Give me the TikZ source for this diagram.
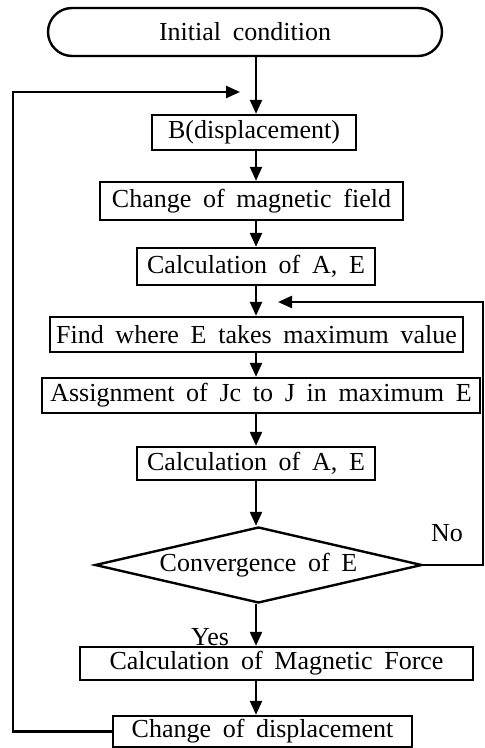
\documentclass[tikz,border=0pt]{standalone}
\usepackage{fontspec}
\setmainfont{Liberation Serif}
\usetikzlibrary{shapes.geometric,arrows.meta}
\begin{document}
\begin{tikzpicture}[
  x=0.5pt, y=-0.5pt,
  every node/.style={font={\fontsize{13pt}{15pt}\selectfont\spaceskip=0.45em\relax}},
  box/.style={draw, line width=1.2pt, inner sep=0pt, align=center},
  term/.style={box, rounded corners=12pt},
  test/.style={draw, line width=1.2pt, diamond, aspect=4.3, inner sep=0pt},
  arr/.style={-{Triangle[length=7pt,width=6pt]}, line width=1.2pt},
  lbl/.style={inner sep=0pt}
]
\useasboundingbox (0,0) rectangle (485,748);
% main axis and loop corners
\coordinate (axis) at (256,0);
\coordinate (lft) at (13,92);
\coordinate (inL) at (240,92);
\coordinate (rgt) at (483,302);
\coordinate (inR) at (278,302);
% Start
\node[term, minimum width=197pt, minimum height=24pt] (start) at (245,32) {Initial condition};
% B(displacement)
\node[box, minimum width=102pt, minimum height=17.5pt] (bdisp) at (254,132.5) {B(displacement)};
% Change of field
\node[box, minimum width=151.5pt, minimum height=19pt] (field) at (251.5,201) {Change of magnetic field};
% First calculation
\node[box, minimum width=119pt, minimum height=18.5pt] (calcA) at (256,266.5) {Calculation of A, E};
% Find maximum
\node[box, minimum width=206.5pt, minimum height=17.5pt] (findmax) at (256.5,334.5) {Find where E takes maximum value};
% Assignment
\node[box, minimum width=219pt, minimum height=17.5pt] (assign) at (261,395.5) {Assignment of Jc to J in maximum E};
% Second calculation
\node[box, minimum width=119pt, minimum height=16.5pt] (calcB) at (256,463.5) {Calculation of A, E};
% Convergence test
\node[test, minimum width=163.5pt, minimum height=38pt] (conv) at (258.5,565) {Convergence of E};
% Magnetic force
\node[box, minimum width=196.5pt, minimum height=16.5pt] (force) at (276.5,663.5) {Calculation of Magnetic Force};
% Change of displacement
\node[box, minimum width=149.5pt, minimum height=15.5pt] (disp) at (262.5,731.5) {Change of displacement};
% Labels
\node[lbl] (no) at (447,533) {No};
\node[lbl] (yes) at (210,637) {Yes};

\draw[arr] (axis |- start.south) -- (axis |- bdisp.north);
\draw[arr] (axis |- bdisp.south) -- (axis |- field.north);
\draw[arr] (axis |- field.south) -- (axis |- calcA.north);
\draw[arr] (axis |- calcA.south) -- (axis |- findmax.north);
\draw[arr] (axis |- findmax.south) -- (axis |- assign.north);
\draw[arr] (axis |- assign.south) -- (axis |- calcB.north);
\draw[arr] (axis |- calcB.south) -- (axis |- conv.north);
\draw[arr] (axis |- conv.south) -- (axis |- force.north);
\draw[arr] (axis |- force.south) -- (axis |- disp.north);
\draw[arr] (conv.east) -| (rgt) -- (inR);
\draw[arr] (disp.west) -| (lft) -- (inL);
\end{tikzpicture}
\end{document}
